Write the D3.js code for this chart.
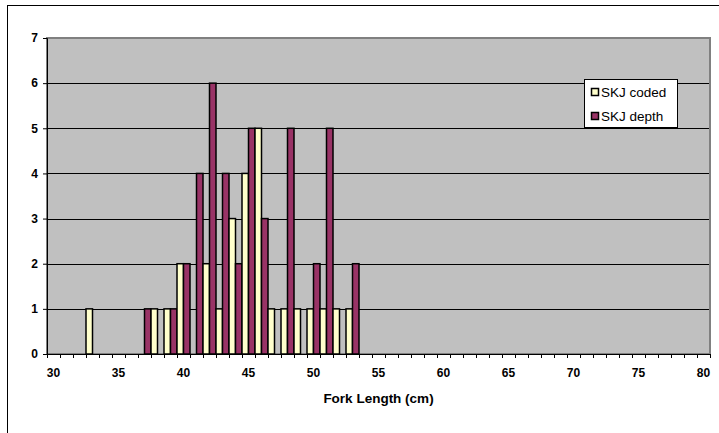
<!DOCTYPE html>
<html>
<head>
<meta charset="utf-8">
<script src="https://cdn.jsdelivr.net/npm/d3@7"></script>
<style>
  html, body { margin: 0; padding: 0; background: #fff; }
  svg { display: block; font-family: "Liberation Sans", Arial, sans-serif; }
</style>
</head>
<body>
<svg id="chart" width="719" height="433"></svg>
<script>
// Fork length categories (cm)
const categories = [30,31,32,33,34,35,36,37,38,39,40,41,42,43,44,45,46,47,48,49,50,
  51,52,53,54,55,56,57,58,59,60,61,62,63,64,65,66,67,68,69,70,
  71,72,73,74,75,76,77,78,79,80];
const seriesNames = ["SKJ coded", "SKJ depth"];
const skjCoded = [0,0,0,1,0,0,0,0,1,1,2,0,2,1,3,4,5,1,1,1,1,
  1,1,1,0,0,0,0,0,0,0,0,0,0,0,0,0,0,0,0,0,
  0,0,0,0,0,0,0,0,0,0];
const skjDepth = [0,0,0,0,0,0,0,1,0,1,2,4,6,4,2,5,3,0,5,0,2,
  5,0,2,0,0,0,0,0,0,0,0,0,0,0,0,0,0,0,0,0,
  0,0,0,0,0,0,0,0,0,0];
const xTickLabels = [30,35,40,45,50,55,60,65,70,75,80];
const yTicks = [0,1,2,3,4,5,6,7];
const xTitle = "Fork Length (cm)";
const colors = ["#FFFFCC", "#993366"];

const svg = d3.select("#chart");
const plot = {left: 47, right: 710, top: 38, bottom: 354};

// outer chart border
svg.append("rect").attr("x", 7.5).attr("y", 5.5).attr("width", 730).attr("height", 450)
  .attr("fill", "#fff").attr("stroke", "#000").attr("stroke-width", 1);

const x = d3.scaleBand().domain(categories).range([plot.left, plot.right]).padding(0);
const xs = d3.scaleBand().domain(seriesNames).range([0, x.bandwidth()]).padding(0);
const y = d3.scaleLinear().domain([0, 7]).range([plot.bottom, plot.top]);

// plot background
svg.append("rect").attr("x", plot.left).attr("y", plot.top)
  .attr("width", plot.right - plot.left).attr("height", plot.bottom - plot.top)
  .attr("fill", "#C0C0C0");

// gridlines
svg.append("g").selectAll("line").data(yTicks.filter(d => d > 0)).join("line")
  .attr("x1", plot.left).attr("x2", plot.right)
  .attr("y1", d => Math.round(y(d)) + 0.5).attr("y2", d => Math.round(y(d)) + 0.5)
  .attr("stroke", "#000").attr("stroke-width", 1);

// plot border (gray)
svg.append("rect").attr("x", plot.left).attr("y", plot.top)
  .attr("width", plot.right - plot.left).attr("height", plot.bottom - plot.top)
  .attr("fill", "none").attr("stroke", "#808080").attr("stroke-width", 2);

// bars
const rows = [];
categories.forEach((c, i) => {
  rows.push({cat: c, s: seriesNames[0], v: skjCoded[i], color: colors[0]});
  rows.push({cat: c, s: seriesNames[1], v: skjDepth[i], color: colors[1]});
});
svg.append("g").selectAll("rect").data(rows.filter(d => d.v > 0)).join("rect")
  .attr("x", d => x(d.cat) + xs(d.s))
  .attr("y", d => y(d.v))
  .attr("width", xs.bandwidth())
  .attr("height", d => y(0) - y(d.v))
  .attr("fill", d => d.color)
  .attr("stroke", "#000").attr("stroke-width", 1.5);

// y axis
const yAxis = d3.axisLeft(y).tickValues(yTicks).tickSize(4).tickPadding(5).tickFormat(d3.format("d"));
const gy = svg.append("g").attr("transform", `translate(${plot.left},0)`).call(yAxis);
gy.select(".domain").attr("stroke", "#000");
gy.selectAll("text").attr("font-size", 12).attr("font-weight", "bold").attr("fill", "#000")
  .attr("font-family", "'Liberation Sans', Arial, sans-serif");

// x axis: tick marks at category boundaries, labels at category centres
const gx = svg.append("g");
gx.append("line").attr("x1", plot.left).attr("x2", plot.right)
  .attr("y1", plot.bottom + 0.5).attr("y2", plot.bottom + 0.5).attr("stroke", "#000");
const boundaries = categories.map(c => x(c)).concat([x(categories[categories.length - 1]) + x.bandwidth()]);
gx.selectAll("line.tick").data(boundaries).join("line").attr("class", "tick")
  .attr("x1", d => Math.round(d) + 0.5).attr("x2", d => Math.round(d) + 0.5)
  .attr("y1", plot.bottom).attr("y2", plot.bottom + 4).attr("stroke", "#000");
gx.selectAll("text").data(xTickLabels).join("text")
  .attr("x", d => x(d) + x.bandwidth() / 2)
  .attr("y", plot.bottom + 23)
  .attr("text-anchor", "middle").attr("font-size", 12).attr("font-weight", "bold")
  .text(d => d);

// x title
svg.append("text").attr("x", (plot.left + plot.right) / 2).attr("y", 403)
  .attr("text-anchor", "middle").attr("font-size", 13.5).attr("font-weight", "bold")
  .text(xTitle);

// legend
const lg = svg.append("g");
lg.append("rect").attr("x", 584.5).attr("y", 79.5).attr("width", 93).attr("height", 48)
  .attr("fill", "#fff").attr("stroke", "#000").attr("stroke-width", 1);
seriesNames.forEach((name, i) => {
  const yy = 88 + i * 24;
  lg.append("rect").attr("x", 591.5).attr("y", yy + 0.5).attr("width", 7).attr("height", 7)
    .attr("fill", colors[i]).attr("stroke", "#000").attr("stroke-width", 1.5);
  lg.append("text").attr("x", 601).attr("y", yy + 8.5).attr("font-size", 13.5)
    .text(name);
});
</script>
</body>
</html>
